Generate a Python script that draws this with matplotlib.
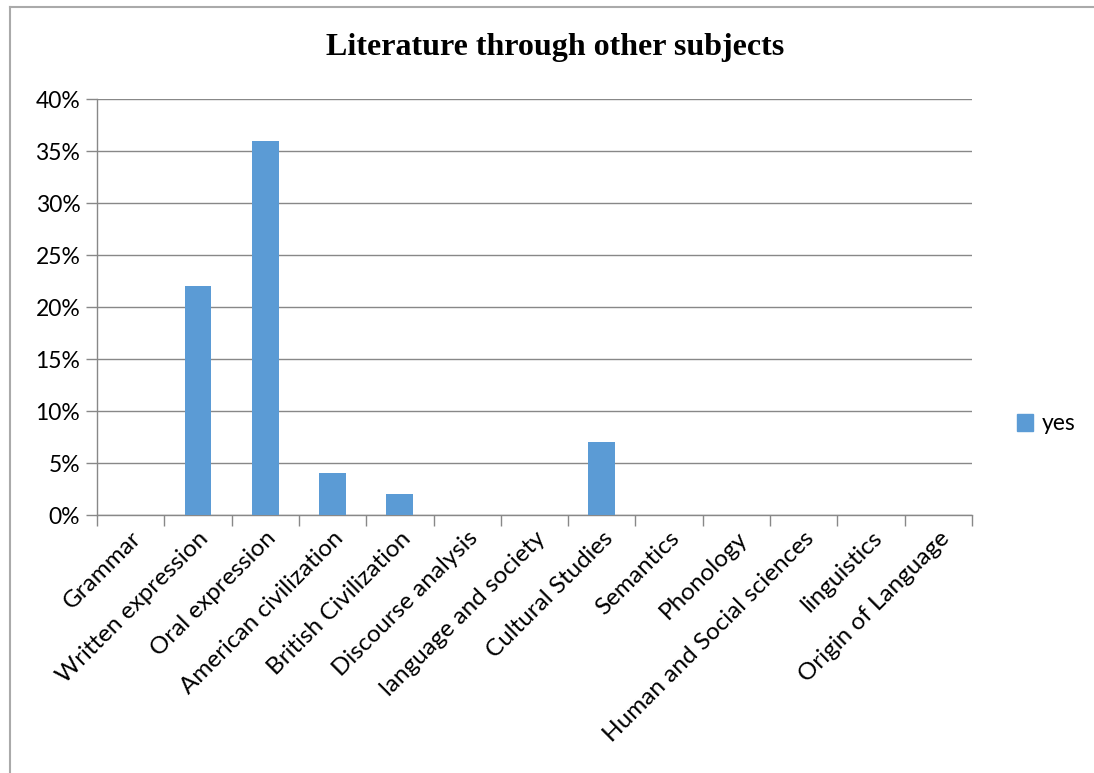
import numpy as np
import matplotlib.pyplot as plt
from matplotlib.ticker import FuncFormatter, MultipleLocator
from matplotlib.lines import Line2D

subjects = ["Grammar", "Written expression", "Oral expression", "American civilization",
            "British Civilization", "Discourse analysis", "language and society",
            "Cultural Studies", "Semantics", "Phonology", "Human and Social sciences",
            "linguistics", "Origin of Language"]
yes = [0, 22, 36, 4, 2, 0, 0, 7, 0, 0, 0, 0, 0]

bar_color = "#5B9BD5"
grid_color = "#888888"
label_font = ["Lato", "DejaVu Sans"]

fig = plt.figure(figsize=(10.94, 7.73), dpi=100)
ax = fig.add_axes([97 / 1094, 1 - 515 / 773, 875 / 1094, 416 / 773])

x = np.arange(len(subjects))
ax.bar(x, yes, width=0.4, color=bar_color, label="yes", zorder=3)

ax.set_xlim(-0.5, len(subjects) - 0.5)
ax.set_ylim(0, 40)
ax.yaxis.set_major_locator(MultipleLocator(5))
ax.yaxis.set_major_formatter(FuncFormatter(lambda v, p: f"{v:.0f}%"))
ax.grid(axis="y", color=grid_color, linewidth=1, zorder=0)

ax.set_xticks(x)
ax.set_xticklabels(subjects, rotation=45, ha="right", rotation_mode="anchor",
                   family=label_font, fontsize=17.5)
ax.tick_params(axis="x", which="major", length=0, pad=9)
ax.set_xticks(np.arange(len(subjects) + 1) - 0.5, minor=True)
ax.tick_params(axis="x", which="minor", length=8, color=grid_color, width=1)
ax.tick_params(axis="y", length=8, color=grid_color, width=1, pad=4)
for lab in ax.get_yticklabels():
    lab.set_family(label_font)
    lab.set_fontsize(16.5)

for s in ["top", "right"]:
    ax.spines[s].set_visible(False)
for s in ["left", "bottom"]:
    ax.spines[s].set_color(grid_color)
    ax.spines[s].set_linewidth(1)

fig.text(555 / 1094, 1 - 48 / 773, "Literature through other subjects",
         family="Liberation Serif", fontweight="bold", fontsize=23,
         ha="center", va="center")

fig.legend(handles=[plt.Rectangle((0, 0), 1, 1, color=bar_color)], labels=["yes"],
           loc="center left", bbox_to_anchor=(996 / 1094, 1 - 424 / 773),
           frameon=False, prop={"family": label_font, "size": 16.5},
           handlelength=0.7, handleheight=0.7, handletextpad=0.4)

# chart border (top and left edges visible)
fig.add_artist(Line2D([10 / 1094, 10 / 1094], [0, 1 - 7 / 773],
                      transform=fig.transFigure, color="#aaaaaa", lw=1.5))
fig.add_artist(Line2D([10 / 1094, 1], [1 - 7 / 773, 1 - 7 / 773],
                      transform=fig.transFigure, color="#aaaaaa", lw=1.5))

fig.savefig("out.png", dpi=100)
